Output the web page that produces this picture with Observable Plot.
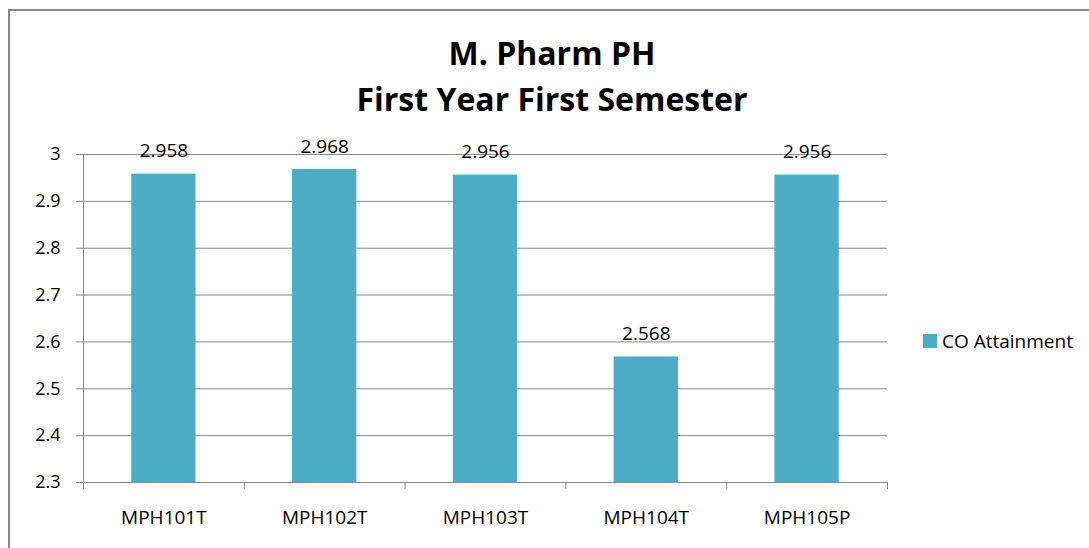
<!DOCTYPE html>
<html>
<head>
<meta charset="utf-8">
<script src="https://cdn.jsdelivr.net/npm/d3@7"></script>
<script src="https://cdn.jsdelivr.net/npm/@observablehq/plot@0.6"></script>
<style>
  html, body { margin: 0; padding: 0; background: #fff; }
  #wrap { position: relative; width: 1089px; height: 548px; overflow: hidden; font-family: "Open Sans", sans-serif; }
  #frame { position: absolute; left: 8px; top: 9px; width: 1200px; height: 700px; border: 2px solid #878787; box-sizing: border-box; }
  #title { position: absolute; left: 0; top: 30px; width: 1104px; text-align: center; font-weight: bold; font-size: 32px; line-height: 46px; color: #000; }
  #chart { position: absolute; left: 0; top: 0; }
  #legend { position: absolute; left: 923px; top: 328px; display: flex; align-items: center; font-size: 19px; color: #000; }
  #legend .sw { width: 14px; height: 14px; background: #4BACC6; margin-right: 5px; }
</style>
</head>
<body>
<div id="wrap">
  <div id="frame"></div>
  <div id="chart"></div>
  <div id="title">M. Pharm PH<br>First Year First Semester</div>
  <div id="legend"><div class="sw"></div><span>CO Attainment</span></div>
</div>
<script>
const categories = ["MPH101T", "MPH102T", "MPH103T", "MPH104T", "MPH105P"];
const values = [2.958, 2.968, 2.956, 2.568, 2.956];
const yTicks = [2.3, 2.4, 2.5, 2.6, 2.7, 2.8, 2.9, 3];
const seriesName = "CO Attainment";

const data = categories.map((c, i) => ({category: c, value: values[i], i}));
const boundaries = d3.range(categories.length + 1);
const grid = "#878787";

const plot = Plot.plot({
  width: 1089,
  height: 548,
  marginLeft: 83,
  marginRight: 202,
  marginTop: 154,
  marginBottom: 66,
  style: {fontFamily: "Open Sans, sans-serif", background: "transparent", overflow: "visible"},
  x: {type: "linear", domain: [0, categories.length], axis: null},
  y: {domain: [2.3, 3], axis: null},
  marks: [
    Plot.ruleY(yTicks, {stroke: grid, strokeWidth: 1}),
    Plot.axisY(yTicks, {
      tickSize: 7, tickPadding: 16, stroke: grid, fontSize: 18, fill: "#000",
      tickFormat: d => String(+d.toFixed(1)), label: null
    }),
    Plot.axisX(boundaries, {
      tickSize: 7, stroke: grid, tickFormat: () => "", label: null
    }),
    Plot.ruleX([0], {y1: 2.3, y2: 3, stroke: grid}),
    Plot.rect(data, {
      x1: d => d.i + 0.3, x2: d => d.i + 0.7,
      y1: 2.3, y2: "value", fill: "#4BACC6"
    }),
    Plot.text(data, {
      x: d => d.i + 0.5, y: "value", text: d => d.value.toFixed(3),
      dy: -23, fontSize: 19, fill: "#000", lineAnchor: "middle"
    }),
    Plot.text(data, {
      x: d => d.i + 0.5, y: 2.3, text: "category",
      dy: 35, fontSize: 19, fill: "#000", lineAnchor: "middle"
    })
  ]
});
document.getElementById("chart").appendChild(plot);
</script>
</body>
</html>
